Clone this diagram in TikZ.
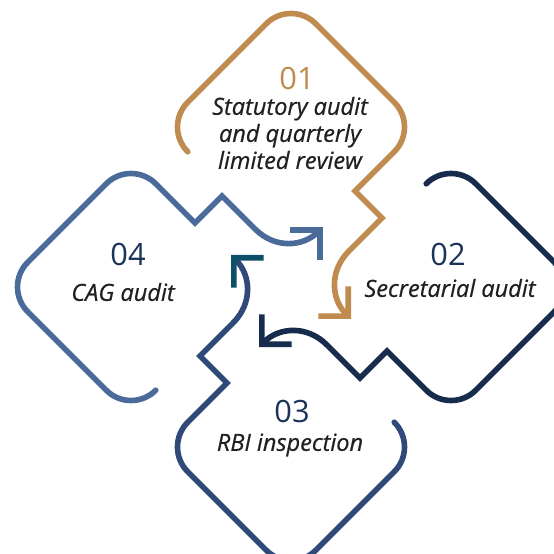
\documentclass[tikz,border=0pt]{standalone}
\usepackage{fontspec}
\setmainfont{Open Sans}
\newfontfamily\labfont{Open Sans}[FakeBold=0.6]
\usetikzlibrary{arrows.meta}
\definecolor{gold}{HTML}{C08B4E}
\definecolor{navyA}{HTML}{172B4D}
\definecolor{navyB}{HTML}{2F4A78}
\definecolor{slate}{HTML}{4A6A9A}
\definecolor{tealhead}{HTML}{0D4F66}
\definecolor{numblue}{HTML}{1A3358}
\definecolor{txt}{HTML}{231F20}

\begin{document}
\begin{tikzpicture}[x=0.02cm,y=0.02cm,
    loopline/.style={line width=3.2pt,line cap=round},
    num/.style={font=\fontsize{17.5}{21}\selectfont},
    lab/.style={font=\labfont\fontsize{13.4}{15.4}\selectfont\itshape,text=txt,align=center}]
    \useasboundingbox (-291,-267) rectangle (263,287);
    \clip (-291,-267) rectangle (263,287);

    % four loops, each turned a quarter further
    \foreach \ang/\col/\tip in {0/gold/gold,-90/navyA/navyA,-180/navyB/tealhead,-270/slate/slate}{
        \draw[loopline,draw=\col,rotate=\ang,
              -{Straight Barb[angle=90:17pt,color=\tip]}]
            (-103.25,135.25) .. controls (-116.92,148.92) and (-116.92,171.08) .. (-103.25,184.75)
            -- (-24.75,263.25) .. controls (-11.08,276.92) and (11.08,276.92) .. (24.75,263.25)
            -- (103.25,184.75) .. controls (116.92,171.08) and (116.92,148.92) .. (103.25,135.25)
            -- (64,96) -- (91,69) -- (58,36)
            .. controls (38,16) and (40,-12) .. (60,-32);
    }

    \node[num,text=gold] (n01) at (6,208) {01};
    \node[lab] (t01) at (-1,154) {Statutory audit\\and quarterly\\limited review};

    \node[num,text=numblue] (n02) at (157,32) {02};
    \node[lab] (t02) at (159,-1) {Secretarial audit};

    \node[num,text=numblue] (n03) at (1,-125) {03};
    \node[lab] (t03) at (-1,-158) {RBI inspection};

    \node[num,text=numblue] (n04) at (-163,32) {04};
    \node[lab] (t04) at (-168,-5) {CAG audit};
\end{tikzpicture}
\end{document}
